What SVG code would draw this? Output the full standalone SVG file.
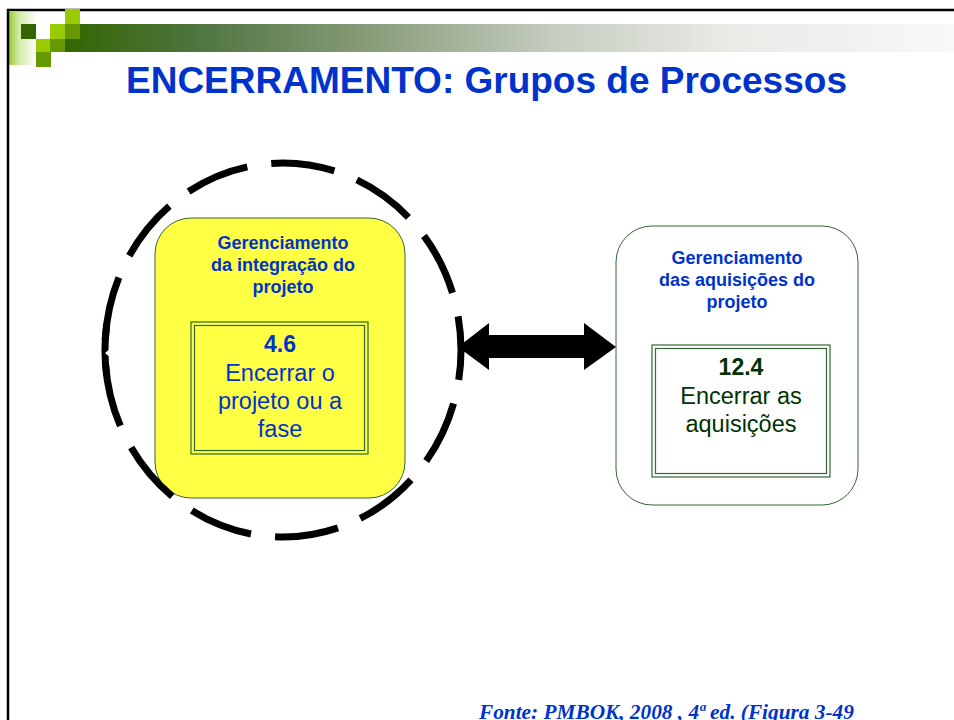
<svg xmlns="http://www.w3.org/2000/svg" width="954" height="720" viewBox="0 0 954 720">
<defs>
<linearGradient id="band" x1="0" y1="0" x2="1" y2="0">
<stop offset="0" stop-color="#336600"/>
<stop offset="0.15" stop-color="#4f7540"/>
<stop offset="0.35" stop-color="#8a9e7c"/>
<stop offset="0.55" stop-color="#c6cdc1"/>
<stop offset="0.75" stop-color="#e9ebe7"/>
<stop offset="1" stop-color="#f8f8f8"/>
</linearGradient>
<linearGradient id="strip" x1="0" y1="0" x2="1" y2="0">
<stop offset="0" stop-color="#99cc33"/>
<stop offset="0.35" stop-color="#d4eaa8"/>
<stop offset="1" stop-color="#ffffff"/>
</linearGradient>
<style>
.bright{fill:#99cc00}
.mid{fill:#669900}
.dark{fill:#336600}
.title{font-family:"Liberation Sans",Arial,sans-serif;font-weight:bold;fill:#0033cc}
.hdr{font-family:"Liberation Sans",Arial,sans-serif;font-weight:bold;font-size:18px;fill:#0033cc;text-anchor:middle}
.num{font-family:"Liberation Sans",Arial,sans-serif;font-weight:bold;font-size:23px;text-anchor:middle}
.body{font-family:"Liberation Sans",Arial,sans-serif;font-size:23.5px;text-anchor:middle}
.box{stroke:#336633;stroke-width:1}
.dbl{fill:none;stroke:#336633;stroke-width:1.2}
.foot{font-family:"Liberation Serif","Times New Roman",serif;font-weight:bold;font-style:italic;font-size:21.3px;fill:#0033cc}
</style>
</defs>
<rect x="0" y="0" width="954" height="720" fill="#ffffff"/>
<g id="header">
<rect x="9" y="12" width="28" height="53" fill="url(#strip)"/>
<rect x="65" y="24" width="889" height="28" fill="url(#band)"/>
<line x1="7" y1="10" x2="954" y2="10" stroke="#000" stroke-width="2.5"/>
<line x1="8" y1="9" x2="8" y2="720" stroke="#000" stroke-width="2.5"/>
<rect class="bright" x="65" y="9" width="15" height="15"/>
<rect class="dark" x="21" y="24" width="15" height="15"/>
<rect class="bright" x="50" y="24" width="15" height="15"/>
<rect class="mid" x="65" y="24" width="15" height="15"/>
<rect class="bright" x="36" y="39" width="14" height="13"/>
<rect class="mid" x="50" y="39" width="15" height="13"/>
<rect class="mid" x="36" y="52" width="15" height="15"/>
</g>
<text class="title" x="126" y="93" font-size="37">ENCERRAMENTO: Grupos de Processos</text>
<g id="integracao">
<rect class="box" x="155" y="218" width="250" height="280" rx="36" fill="#ffff44"/>
<text class="hdr" x="283" y="249">Gerenciamento</text>
<text class="hdr" x="283" y="271">da integração do</text>
<text class="hdr" x="283" y="293">projeto</text>
<rect class="dbl" x="191" y="322" width="177" height="132"/>
<rect class="dbl" x="194.5" y="325.5" width="170" height="125"/>
<text class="num" x="280" y="352" fill="#0033cc">4.6</text>
<text class="body" x="280" y="381" fill="#0033cc">Encerrar o</text>
<text class="body" x="280" y="409" fill="#0033cc">projeto ou a</text>
<text class="body" x="280" y="437" fill="#0033cc">fase</text>
</g>
<g id="circulo">
<ellipse cx="283" cy="350" rx="178" ry="187" fill="none" stroke="#000" stroke-width="7" stroke-dasharray="64 24.2" stroke-dashoffset="34"/>
<path d="M 106.7 376 A 178 187 0 0 1 106.7 324" fill="none" stroke="#000" stroke-width="7"/>
<polygon points="105,353 111,348 110,353 111,358" fill="#ffffff"/>
</g>
<g id="aquisicoes">
<rect class="box" x="616" y="226" width="242" height="279" rx="36" fill="#ffffff"/>
<text class="hdr" x="737" y="264">Gerenciamento</text>
<text class="hdr" x="737" y="286">das aquisições do</text>
<text class="hdr" x="737" y="308">projeto</text>
<rect class="dbl" x="652" y="345" width="178" height="132"/>
<rect class="dbl" x="655.5" y="348.5" width="171" height="125"/>
<text class="num" x="741" y="375" fill="#003300">12.4</text>
<text class="body" x="741" y="404" fill="#003300">Encerrar as</text>
<text class="body" x="741" y="432" fill="#003300">aquisições</text>
</g>
<g id="connectors">
<polygon points="458,347 489,323 489,335 584,335 584,323 616,347 584,370 584,358 489,358 489,370" fill="#000"/>
</g>
<text class="foot" x="479" y="719">Fonte: PMBOK, 2008 , 4ª ed. (Figura 3-49</text>
</svg>
